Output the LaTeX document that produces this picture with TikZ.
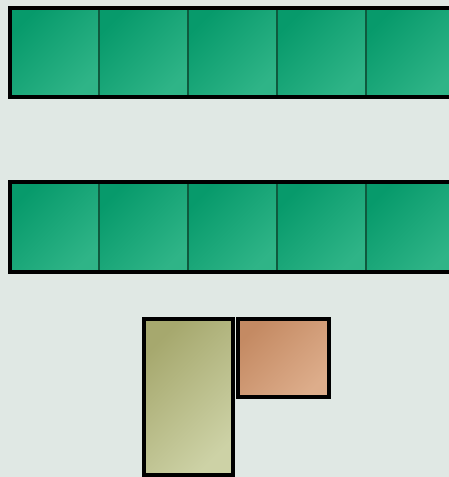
\documentclass[tikz,border=0pt]{standalone}
\usepackage{xcolor}
\usepackage{tikz}

\definecolor{bgcol}{HTML}{E0E8E4}
\definecolor{greendark}{HTML}{079A6B}
\definecolor{greenlight}{HTML}{2FB487}
\definecolor{divcol}{HTML}{0F5A3E}
\definecolor{olivedark}{HTML}{A6A86E}
\definecolor{olivelight}{HTML}{CDD2A6}
\definecolor{clay}{HTML}{C48A63}
\definecolor{claylight}{HTML}{DDAD8B}

\begin{document}
\begin{tikzpicture}[
  x=0.05cm, y=-0.05cm,
  tile/.style={draw=divcol, line width=2pt},
  greentile/.style={tile, top color=greendark, bottom color=greenlight,
                    shading angle=45},
  frame/.style={draw=black, line width=5pt},
]
  % Background
  \fill[bgcol] (0,0) rectangle (449,477);
  \useasboundingbox (0,0) rectangle (449,477);
  \clip (0,0) rectangle (449,477);

  % Two rows of green tiles
  \foreach \top/\bot in {8/97, 182/272} {
    \foreach \c in {0,...,4} {
      \shade[greentile] ({10+\c*89}, \top) rectangle ({99+\c*89}, \bot);
    }
    \draw[frame] (10, \top) rectangle (470, \bot);
  }

  % Bottom blocks
  \shade[frame, top color=olivedark, bottom color=olivelight,
         shading angle=45] (144, 319) rectangle (233, 475);
  \shade[frame, top color=clay, bottom color=claylight,
         shading angle=45] (238, 319) rectangle (329, 397);

\end{tikzpicture}
\end{document}
